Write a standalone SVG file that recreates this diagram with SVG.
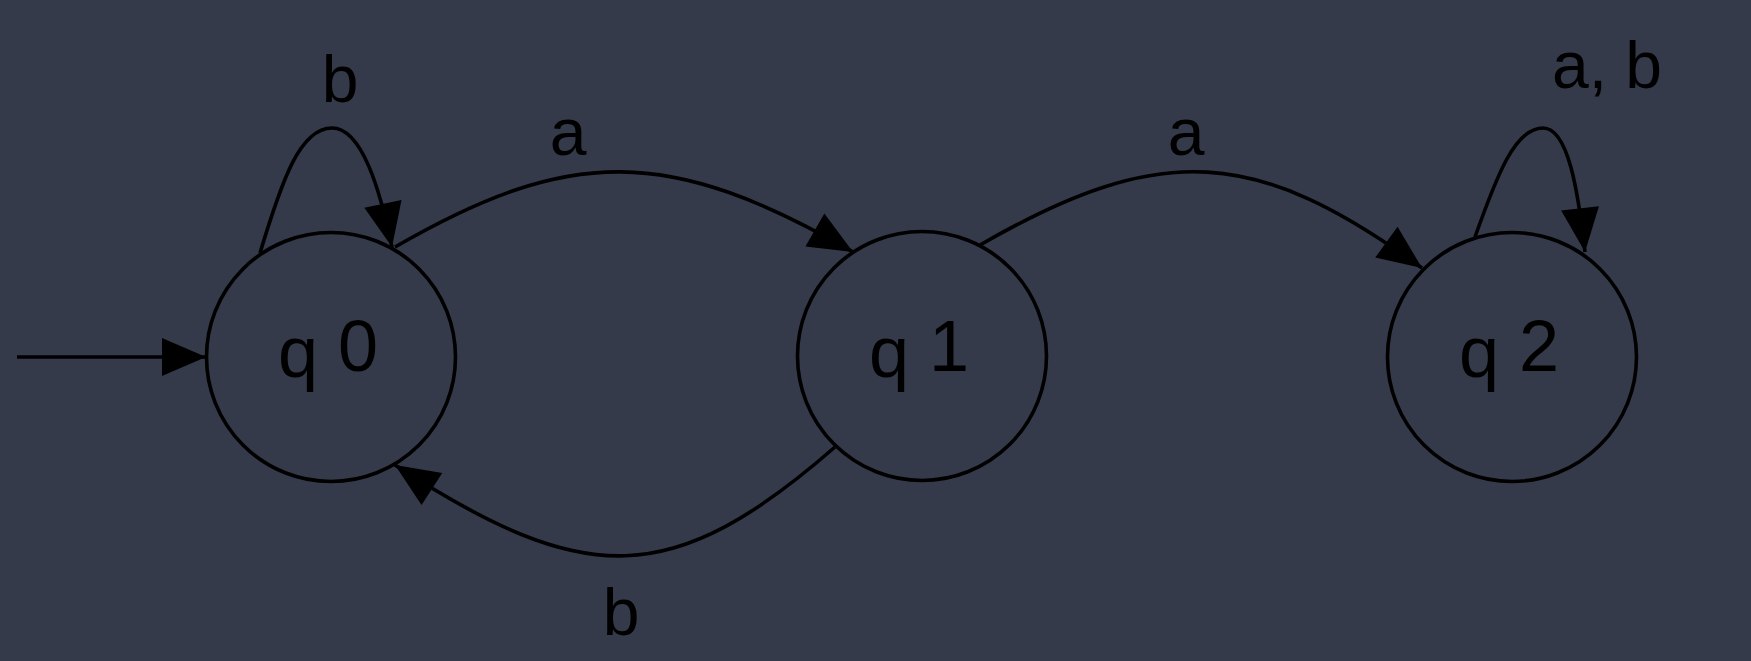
<svg xmlns="http://www.w3.org/2000/svg" width="1751" height="661" viewBox="0 0 1751 661">
<style>
.bg{fill:#343a4a}
.node{fill:none;stroke:#000;stroke-width:3.6}
.edge{fill:none;stroke:#000;stroke-width:3.6}
.lbl{font-family:"Liberation Sans","DejaVu Sans",sans-serif;fill:#000;text-anchor:middle}
.nl{font-size:72px}
.el{font-size:66px}
</style>
<defs>
<marker id="ah" markerUnits="userSpaceOnUse" markerWidth="48" markerHeight="42" viewBox="0 0 48 42" refX="46" refY="21" orient="auto">
<path d="M2,2 L46,21 L2,40 Z" fill="#000"/>
</marker>
</defs>
<rect class="bg" x="0" y="0" width="1751" height="661"/>
<g id="edges">
<path id="e-start" class="edge" d="M17,357 L206,357" marker-end="url(#ah)"/>
<path id="e-q0-q0" class="edge" d="M260,253 C282,180 300,128 332,128 C362,128 380,190 392,247" marker-end="url(#ah)"/>
<path id="e-q0-q1" class="edge" d="M395,247 C570,146 669,146 853,252" marker-end="url(#ah)"/>
<path id="e-q1-q2" class="edge" d="M980,245 C1162,140 1257,148 1422,268" marker-end="url(#ah)"/>
<path id="e-q2-q2" class="edge" d="M1475,237 C1497,175 1515,128 1543,128 C1568,128 1578,190 1585,252" marker-end="url(#ah)"/>
<path id="e-q1-q0" class="edge" d="M835,447 C672,589 586,589 395,465" marker-end="url(#ah)"/>
<text class="lbl el" x="340" y="102">b</text>
<text class="lbl el" x="568" y="155">a</text>
<text class="lbl el" x="1186" y="155">a</text>
<text class="lbl el" x="621" y="635">b</text>
<text class="lbl el" x="1607" y="88">a, b</text>
</g>
<g id="q0">
<circle class="node" cx="331" cy="357" r="124.5"/>
<text class="lbl nl" x="328" y="377"><tspan>q</tspan><tspan dx="20" dy="-6">0</tspan></text>
</g>
<g id="q1">
<circle class="node" cx="922" cy="356" r="124.5"/>
<text class="lbl nl" x="919" y="377"><tspan>q</tspan><tspan dx="20" dy="-6">1</tspan></text>
</g>
<g id="q2">
<circle class="node" cx="1512" cy="357" r="124.5"/>
<text class="lbl nl" x="1509" y="377"><tspan>q</tspan><tspan dx="20" dy="-6">2</tspan></text>
</g>
</svg>
